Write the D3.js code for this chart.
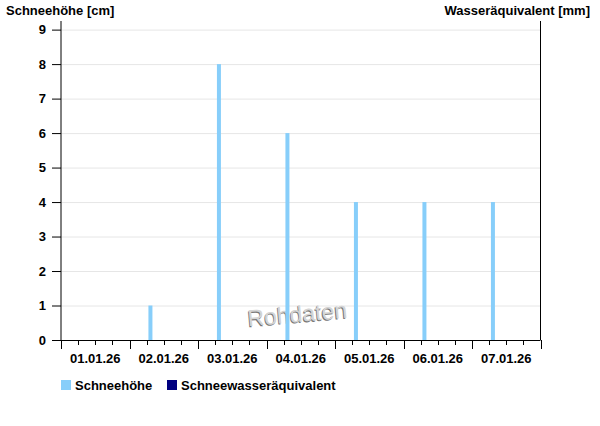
<!DOCTYPE html>
<html><head><meta charset="utf-8">
<script src="https://cdn.jsdelivr.net/npm/d3@7"></script>
<style>body{margin:0;background:#fff}svg{display:block}text{font-family:"Liberation Sans",Arial,sans-serif;font-weight:bold;fill:#000}</style>
</head><body><svg id="c" width="600" height="426"></svg>
<script>
const times = ["2026-01-02T07:20","2026-01-03T07:20","2026-01-04T07:20","2026-01-05T07:20","2026-01-06T07:20","2026-01-07T07:20"];
const schneehoehe = [1, 8, 6, 4, 4, 4];
const wasseraequivalent = [];
const yTicks = [0,1,2,3,4,5,6,7,8,9];
const dayLabels = ["01.01.26","02.01.26","03.01.26","04.01.26","05.01.26","06.01.26","07.01.26"];
const seriesNames = ["Schneehöhe","Schneewasseräquivalent"];
const seriesColors = ["#87cefa","#000080"];

const svg = d3.select("#c");
const parse = d3.isoParse;
const x = d3.scaleTime().domain([new Date(2026,0,1), new Date(2026,0,8)]).range([61, 540.5]);
const y = d3.scaleLinear().domain([0, 9.25]).range([340, 21]);
const x0 = 61, x1 = 540.5;

// grid
svg.append("g").selectAll("line").data(yTicks.slice(1)).join("line")
  .attr("x1", x0).attr("x2", x1).attr("y1", d=>y(d)+0.5).attr("y2", d=>y(d)+0.5)
  .attr("stroke", "#e6e6e6").attr("stroke-width", 1);

// watermark
const wm = svg.append("g").attr("transform", "translate(298,322) rotate(-5)");
wm.append("text").attr("text-anchor","middle").attr("x",-1).attr("y",1)
  .style("font-weight","normal").style("font-size","23px").style("fill","#777").text("Rohdaten");
wm.append("text").attr("text-anchor","middle")
  .style("font-weight","normal").style("font-size","23px").style("fill","#d4d4d4").text("Rohdaten");

// bars
const data = times.map((t,i)=>({t:new Date(t), v:schneehoehe[i]}));
svg.append("g").selectAll("rect").data(data).join("rect")
  .attr("x", d=>x(d.t)-2).attr("width", 4)
  .attr("y", d=>y(d.v)).attr("height", d=>y(0)-y(d.v))
  .attr("fill", seriesColors[0]);

// left axis
const ly = svg.append("g");
ly.append("line").attr("x1",x0).attr("x2",x0).attr("y1",21).attr("y2",340).attr("stroke","#000");
ly.selectAll("line.t").data(yTicks).join("line").attr("class","t")
  .attr("x1",52).attr("x2",x0).attr("y1",d=>y(d)+0.5).attr("y2",d=>y(d)+0.5).attr("stroke","#000");
ly.selectAll("text").data(yTicks).join("text")
  .attr("x",46).attr("y",d=>y(d)).attr("dy","0.36em").attr("text-anchor","end")
  .style("font-size","13px").text(d=>d);

// right axis
svg.append("line").attr("x1",x1).attr("x2",x1).attr("y1",21).attr("y2",340).attr("stroke","#000");

// x axis
const xa = svg.append("g");
xa.append("line").attr("x1",x0).attr("x2",x1).attr("y1",340.5).attr("y2",340.5).attr("stroke","#000");
const minor = d3.timeHour.every(6).range(new Date(2026,0,1), new Date(2026,0,8,1));
xa.selectAll("line.m").data(minor).join("line").attr("class","m")
  .attr("x1",d=>Math.round(x(d))+0.5).attr("x2",d=>Math.round(x(d))+0.5)
  .attr("y1",340).attr("y2",d=>d.getHours()===0?349:345).attr("stroke","#000");
const days = d3.timeDay.range(new Date(2026,0,1), new Date(2026,0,8));
xa.selectAll("text").data(days).join("text")
  .attr("x",d=>x(d3.timeHour.offset(d,12))).attr("y",362.5).attr("text-anchor","middle")
  .style("font-size","13px").text((d,i)=>dayLabels[i]);

// titles
svg.append("text").attr("x",6).attr("y",14.5).style("font-size","13px").text("Schneehöhe [cm]");
svg.append("text").attr("x",590).attr("y",14.5).attr("text-anchor","end").style("font-size","13px").text("Wasseräquivalent [mm]");

// legend
const lg = svg.append("g");
const lx = [61, 167];
seriesNames.forEach((n,i)=>{
  lg.append("rect").attr("x",lx[i]).attr("y",380).attr("width",10).attr("height",10).attr("fill",seriesColors[i]);
  lg.append("text").attr("x",lx[i]+14).attr("y",389.5).style("font-size","13px").text(n);
});
</script></body></html>
